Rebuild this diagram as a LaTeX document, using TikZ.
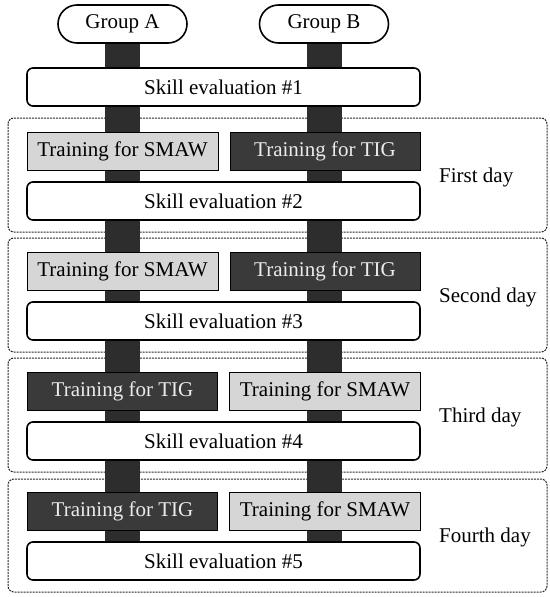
\documentclass[tikz,border=0pt]{standalone}
\usepackage{fontspec}
\setmainfont{Liberation Serif}
\pgfdeclarelayer{bg}
\pgfsetlayers{bg,main}

\definecolor{smawgray}{RGB}{214,214,214}
\definecolor{tigdark}{RGB}{58,58,58}
\definecolor{bardark}{RGB}{45,45,45}
\definecolor{framegray}{RGB}{40,40,40}

\begin{document}
\begin{tikzpicture}[x=1pt,y=-1pt,
    font=\fontsize{21}{25}\selectfont,
    group/.style={draw,line width=1.6pt,rounded corners=19pt,minimum width=129pt,minimum height=38pt,inner sep=0pt,fill=white},
    evalbox/.style={draw,line width=1.6pt,rounded corners=6pt,minimum width=393pt,minimum height=38pt,inner sep=0pt,fill=white},
    smaw/.style={draw,line width=1pt,fill=smawgray,minimum width=191pt,minimum height=38pt,inner sep=0pt},
    tig/.style={draw,line width=1pt,fill=tigdark,text=white!92!black,minimum width=190pt,minimum height=38pt,inner sep=0pt},
    dayframe/.style={draw=framegray,line width=1pt,dash pattern=on 2pt off 1pt,rounded corners=6pt},
    daylabel/.style={anchor=west,inner sep=0pt},
    bar/.style={line width=35pt,draw=bardark}]
    \useasboundingbox (0,0) rectangle (549,597);

    % groups
    \node[group] (grpA) at (122.5,24) {Group A};
    \node[group] (grpB) at (324,24) {Group B};
    \node[evalbox] (ev1) at (223.5,87) {Skill evaluation \#1};

    % first day
    \node[smaw] (tA1) at (122.5,151) {Training for SMAW};
    \node[tig] (tB1) at (325,151) {Training for TIG};
    \node[evalbox] (ev2) at (223.5,201) {Skill evaluation \#2};
    \node[daylabel] (day1) at (439,177) {First day};

    % second day
    \node[smaw] (tA2) at (122.5,271) {Training for SMAW};
    \node[tig] (tB2) at (325,271) {Training for TIG};
    \node[evalbox] (ev3) at (223.5,321) {Skill evaluation \#3};
    \node[daylabel] (day2) at (439,297) {Second day};

    % third day
    \node[tig] (tA3) at (122.5,391) {Training for TIG};
    \node[smaw] (tB3) at (325,391) {Training for SMAW};
    \node[evalbox] (ev4) at (223.5,441) {Skill evaluation \#4};
    \node[daylabel] (day3) at (439,417) {Third day};

    % fourth day
    \node[tig] (tA4) at (122.5,511) {Training for TIG};
    \node[smaw] (tB4) at (325,511) {Training for SMAW};
    \node[evalbox] (ev5) at (223.5,561) {Skill evaluation \#5};
    \node[daylabel] (day4) at (439,537) {Fourth day};

    \begin{pgfonlayer}{bg}
    \draw[dayframe] (8,118) rectangle (547,232);
    \draw[dayframe] (8,238) rectangle (547,352);
    \draw[dayframe] (8,358) rectangle (547,472);
    \draw[dayframe] (8,479) rectangle (547,592);
    \draw[bar] (grpA) -- (grpA |- ev5);
    \draw[bar] (grpB) -- (grpB |- ev5);
    \end{pgfonlayer}
\end{tikzpicture}
\end{document}
